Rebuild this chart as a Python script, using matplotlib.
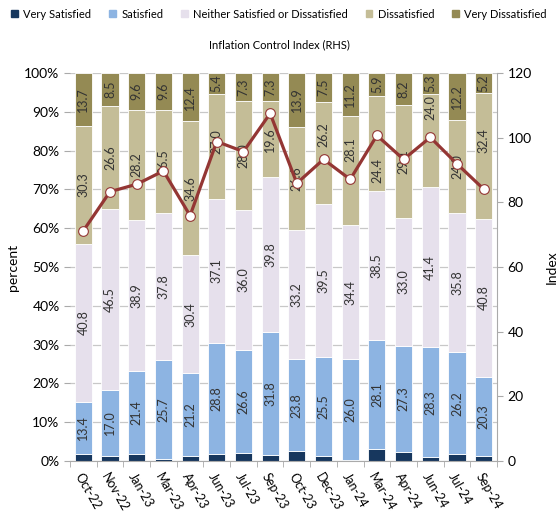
import numpy as np
import matplotlib
matplotlib.use('Agg')
import matplotlib.pyplot as plt
import matplotlib.patches as mpatches

plt.rcParams['font.family'] = ['Lato', 'DejaVu Sans']

months = ['Oct-22', 'Nov-22', 'Jan-23', 'Mar-23', 'Apr-23', 'Jun-23', 'Jul-23', 'Sep-23',
          'Oct-23', 'Dec-23', 'Jan-24', 'Mar-24', 'Apr-24', 'Jun-24', 'Jul-24', 'Sep-24']
very_satisfied = [1.8, 1.4, 1.9, 0.4, 1.4, 1.7, 2.1, 1.5, 2.5, 1.3, 0.3, 3.1, 2.4, 1.0, 1.8, 1.3]
satisfied = [13.4, 17.0, 21.4, 25.7, 21.2, 28.8, 26.6, 31.8, 23.8, 25.5, 26.0, 28.1, 27.3, 28.3, 26.2, 20.3]
neither = [40.8, 46.5, 38.9, 37.8, 30.4, 37.1, 36.0, 39.8, 33.2, 39.5, 34.4, 38.5, 33.0, 41.4, 35.8, 40.8]
dissatisfied = [30.3, 26.6, 28.2, 26.5, 34.6, 27.0, 28.0, 19.6, 26.6, 26.2, 28.1, 24.4, 29.1, 24.0, 24.0, 32.4]
very_dissatisfied = [13.7, 8.5, 9.6, 9.6, 12.4, 5.4, 7.3, 7.3, 13.9, 7.5, 11.2, 5.9, 8.2, 5.3, 12.2, 5.2]
index_vals = [71.2, 83.3, 85.6, 89.7, 75.9, 98.8, 95.7, 107.5, 85.9, 93.3, 87.1, 100.7, 93.3, 100.1, 91.9, 84.1]

series = [('Very Satisfied', very_satisfied, '#17375e', False),
          ('Satisfied', satisfied, '#8db4e2', True),
          ('Neither Satisfied or Dissatisfied', neither, '#e6e0ec', True),
          ('Dissatisfied', dissatisfied, '#c4bd97', True),
          ('Very Dissatisfied', very_dissatisfied, '#948a54', True)]

# a few labels were moved by hand in the original to dodge the line
label_shift = {('Dissatisfied', 9): 4.6, ('Dissatisfied', 10): 5.5, ('Dissatisfied', 11): -7.0,
               ('Dissatisfied', 13): 8.4, ('Dissatisfied', 15): 4.0, ('Dissatisfied', 5): 1.2}

fig = plt.figure(figsize=(5.58, 5.12), dpi=100)
ax = fig.add_axes([0.1254, 0.0996, 0.7653, 0.7578])
x = np.arange(len(months))
bottom = np.zeros(len(months))
handles = []
for name, vals, col, labelled in series:
    vals = np.array(vals)
    ax.bar(x, vals, 0.64, bottom=bottom, color=col, edgecolor='white', linewidth=0.6, zorder=2)
    if labelled:
        for i, (xi, b, v) in enumerate(zip(x, bottom, vals)):
            ax.text(xi, b + v / 2 + label_shift.get((name, i), 0), '%.1f' % v, rotation=90,
                    ha='center', va='center', fontsize=9, color='#333333', zorder=5)
    bottom += vals
    handles.append(mpatches.Patch(color=col, label=name))

ax.set_xlim(-0.5, len(months) - 0.5)
ax.set_ylim(0, 100)
ax.set_yticks(np.arange(0, 101, 10))
ax.set_yticklabels(['%d%%' % v for v in range(0, 101, 10)], fontsize=10)
ax.yaxis.grid(True, color='#c8c8c8', linewidth=0.9, zorder=0)
ax.set_axisbelow(True)
ax.set_xticks(x)
ax.set_xticklabels(months, rotation=-60, ha='left', rotation_mode='anchor', fontsize=9)
ax.set_xticks(np.arange(-0.5, len(months), 1), minor=True)
ax.tick_params(axis='x', which='major', length=0, pad=7)
ax.tick_params(axis='x', which='minor', length=4, color='#aaaaaa')
ax.tick_params(axis='y', length=4, color='#aaaaaa')
ax.set_ylabel('percent', fontsize=10)
for s in ['top', 'left', 'right']:
    ax.spines[s].set_visible(False)
ax.spines['bottom'].set_color('#aaaaaa')

ax2 = ax.twinx()
ax2.plot(x, index_vals, color='#943634', linewidth=2.3, marker='o', markersize=7,
         markerfacecolor='white', markeredgecolor='#943634', markeredgewidth=0.8, zorder=6)
ax2.set_ylim(0, 120)
ax2.set_yticks(np.arange(0, 121, 20))
ax2.tick_params(axis='y', labelsize=10, length=4, color='#aaaaaa')
ax2.set_ylabel('Index', fontsize=10, labelpad=10)
for s in ['top', 'left', 'bottom']:
    ax2.spines[s].set_visible(False)
ax2.spines['right'].set_color('#aaaaaa')

fig.legend(handles=handles, loc='center', bbox_to_anchor=(0.5, 0.972), ncol=5, frameon=False,
           fontsize=8, handlelength=0.6, handleheight=0.6, handletextpad=0.5, columnspacing=1.6)
fig.text(0.5, 0.912, 'Inflation Control Index (RHS)', ha='center', va='center', fontsize=8)

fig.savefig('out.png', dpi=100)
